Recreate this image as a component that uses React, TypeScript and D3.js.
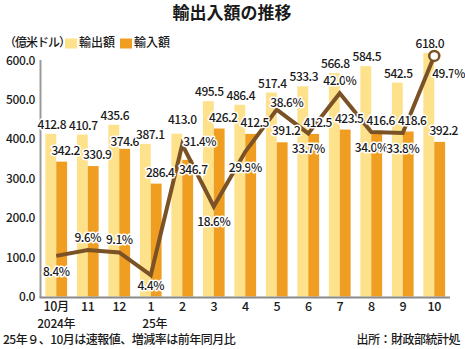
import React from "react";
import * as d3 from "d3";

const months = ["10月", "11", "12", "1", "2", "3", "4", "5", "6", "7", "8", "9", "10"];
const yearLabels = ["2024年", "", "", "25年", "", "", "", "", "", "", "", "", ""];
const exportsVal = [412.8, 410.7, 435.6, 387.1, 413.0, 495.5, 486.4, 517.4, 533.3, 566.8, 584.5, 542.5, 618.0];
const importsVal = [342.2, 330.9, 374.6, 286.4, 346.7, 426.2, 412.5, 391.2, 412.5, 423.5, 416.6, 418.6, 392.2];
const growthPct = [8.4, 9.6, 9.1, 4.4, 31.4, 18.6, 29.9, 38.6, 33.7, 42.0, 34.0, 33.8, 49.7];
const yTicks = [0, 100, 200, 300, 400, 500, 600];

// annotation placement (not data)
const pctPlacement = ["below", "above", "above", "belowTight", "right", "below", "below", "aboveRight", "below", "above", "below", "below", "belowRight"];

const W = 465, H = 349;
const X0 = 40.5, X1 = 450, YB = 296.5, YT = 60;

const C_EXP = "#FEE18B";
const C_IMP = "#EF9E22";
const C_LINE = "#7A5225";
const FONT = "'Noto Sans CJK JP', 'Noto Sans', sans-serif";

export default function App() {
  const idx = months.map((_, i) => i);
  const x = d3.scaleBand<number>().domain(idx).range([X0, X1]).paddingInner(0.31).paddingOuter(0.155);
  const y = d3.scaleLinear().domain([0, 600]).range([YB, YT]);
  const yp = d3.scaleLinear().domain([0, 50]).range([YB, YB - 242]);
  const bw = x.bandwidth() / 2;
  const cx = (i: number) => (x(i) as number) + x.bandwidth() / 2;

  const line = d3.line<number>().x((_, i) => cx(i)).y((d) => yp(d));

  const txt: React.CSSProperties = { fontFamily: FONT, fontSize: 12, fill: "#1a1a1a", fontWeight: 500 };
  const labelStyle: React.CSSProperties = {
    ...txt,
    letterSpacing: -0.5,
    stroke: "#fff",
    strokeWidth: 3,
    paintOrder: "stroke",
    strokeLinejoin: "round",
  };

  return (
    <svg width={W} height={H} style={{ position: "absolute", left: 0, top: 0, background: "#fff" }}>
      <text x={232} y={18.5} textAnchor="middle" style={{ fontFamily: FONT, fontSize: 17, fontWeight: "bold", fill: "#1a1a1a" }}>
        輸出入額の推移
      </text>
      {/* legend */}
      <text x={4} y={47} style={{ ...txt, letterSpacing: -1 }}>（億米ドル）</text>
      <rect x={65} y={38.5} width={12} height={10} fill={C_EXP} />
      <text x={79} y={47} style={txt}>輸出額</text>
      <rect x={120} y={38.5} width={12} height={10} fill={C_IMP} />
      <text x={134} y={47} style={txt}>輸入額</text>

      {/* bars */}
      {idx.map((i) => (
        <g key={"b" + i}>
          <rect x={x(i)} y={y(exportsVal[i])} width={bw} height={YB - y(exportsVal[i])} fill={C_EXP} />
          <rect x={(x(i) as number) + bw} y={y(importsVal[i])} width={bw} height={YB - y(importsVal[i])} fill={C_IMP} />
        </g>
      ))}

      {/* axes */}
      <line x1={X0} x2={X0} y1={YT} y2={YB + 1} stroke="#9a9a9a" strokeWidth={2} />
      <line x1={X0 - 1} x2={X1} y1={YB + 1} y2={YB + 1} stroke="#8a8a8a" strokeWidth={2} />
      {yTicks.map((t) => (
        <text key={"yt" + t} x={35} y={y(t) + 4.5} textAnchor="end" style={{ ...txt, letterSpacing: -0.4 }}>
          {t.toFixed(1)}
        </text>
      ))}
      {idx.map((i) => (
        <g key={"xt" + i}>
          <text x={cx(i)} y={310.5} textAnchor="middle" style={{ ...txt, fontSize: 12.5, letterSpacing: -0.5 }}>
            {months[i]}
          </text>
          {yearLabels[i] && (
            <text x={cx(i) + (i === 3 ? 4 : 0)} y={328} textAnchor="middle" style={{ ...txt, fontSize: 12, letterSpacing: -0.3 }}>
              {yearLabels[i]}
            </text>
          )}
        </g>
      ))}

      {/* growth line */}
      <path d={line(growthPct) || ""} fill="none" stroke={C_LINE} strokeWidth={4} strokeLinejoin="miter" />
      <circle cx={cx(12)} cy={yp(growthPct[12])} r={5} fill="#fff" stroke={C_LINE} strokeWidth={2.5} />

      {/* value labels */}
      {idx.map((i) => {
        const special = i === 4;
        const ex = special ? cx(i) : (x(i) as number) + bw / 2 + (i === 3 ? 5 : 1);
        const ey = special ? y(exportsVal[i]) - 10 : y(exportsVal[i]) - 5;
        const ix = special ? cx(i) + 11 : (x(i) as number) + bw * 1.5 + (i === 2 ? 0 : 4);
        const iy = special ? y(importsVal[i]) + 14 : y(importsVal[i]) - (i === 2 ? 3 : 7);
        return (
          <g key={"l" + i}>
            <text x={ex} y={ey} textAnchor="middle" style={labelStyle}>{exportsVal[i].toFixed(1)}</text>
            <text x={ix} y={iy} textAnchor="middle" style={labelStyle}>{importsVal[i].toFixed(1)}</text>
          </g>
        );
      })}
      {idx.map((i) => {
        const p = pctPlacement[i];
        const px = cx(i), py = yp(growthPct[i]);
        let tx = px, ty = py, anchor: "middle" | "start" = "middle";
        if (p === "above") ty = py - 8;
        else if (p === "below") ty = py + 20;
        else if (p === "belowTight") ty = py + 15;
        else if (p === "right") { tx = px + 1; ty = py + 1; anchor = "start"; }
        else if (p === "aboveRight") { tx = px + 10; ty = py - 3; }
        else if (p === "belowRight") { tx = px - 2; ty = py + 22; anchor = "start"; }
        return (
          <text key={"p" + i} x={tx} y={ty} textAnchor={anchor} style={labelStyle}>
            {growthPct[i].toFixed(1)}%
          </text>
        );
      })}

      {/* footnotes */}
      <text x={3} y={343.5} style={{ ...txt, letterSpacing: -0.5 }}>
        25年９、10月は速報値、増減率は前年同月比
      </text>
      <text x={460} y={343.5} textAnchor="end" style={{ ...txt, letterSpacing: -0.5 }}>
        出所：財政部統計処
      </text>
    </svg>
  );
}
